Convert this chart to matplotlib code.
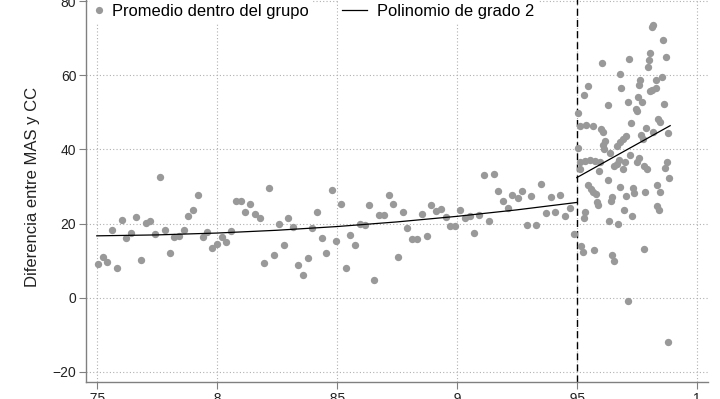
import matplotlib
matplotlib.use("Agg")
import matplotlib.pyplot as plt
from matplotlib.lines import Line2D

plt.rcParams['font.family'] = ['Liberation Sans', 'DejaVu Sans']

# ---- data ----
left_x = [0.7504,0.7525,0.7544,0.7564,0.7583,0.7603,0.7622,0.7643,0.7664,0.7683,
          0.7703,0.7723,0.7743,0.7762,0.7783,0.7803,0.7822,0.7842,0.7863,0.7882,
          0.7902,0.7922,0.7942,0.7961,0.7980,0.8000,0.8021,0.8040,0.8060,0.8079,
          0.8100,0.8119,0.8138,0.8159,0.8179,0.8198,0.8217,0.8238,0.8258,0.8279,
          0.8298,0.8318,0.8339,0.8358,0.8378,0.8398,0.8419,0.8438,0.8457,0.8478,
          0.8498,0.8518,0.8537,0.8557,0.8575,0.8597,0.8617,0.8636,0.8654,0.8676,
          0.8696,0.8716,0.8736,0.8755,0.8775,0.8794,0.8815,0.8835,0.8856,0.8875,
          0.8894,0.8914,0.8935,0.8954,0.8973,0.8994,0.9013,0.9033,0.9054,0.9073,
          0.9093,0.9113,0.9133,0.9153,0.9172,0.9193,0.9213,0.9232,0.9253,0.9272,
          0.9292,0.9311,0.9332,0.9352,0.9371,0.9392,0.9411,0.9431,0.9452,0.9471,
          0.9490]
left_y = [9.2,10.9,9.7,18.3,8.1,21.0,16.0,17.6,21.9,10.2,
          20.2,20.7,17.2,32.5,18.2,12.1,16.3,16.7,18.4,22.1,
          23.8,27.8,16.4,17.7,13.5,14.6,16.3,15.1,18.1,26.1,
          26.1,23.1,25.3,22.6,21.5,9.5,29.5,11.6,19.9,14.1,
          21.5,19.2,8.8,6.2,10.6,18.9,23.2,16.0,12.0,29.0,
          15.4,25.4,8.0,17.0,14.3,20.0,19.5,24.9,4.9,22.4,
          22.4,27.8,25.2,11.1,23.2,18.8,15.8,15.8,22.6,16.6,
          25.0,23.5,23.9,21.8,19.3,19.3,23.7,21.6,22.1,17.4,
          22.3,33.2,20.8,33.5,28.7,26.1,24.2,27.8,26.8,28.9,
          19.5,27.4,19.5,30.7,22.8,27.2,23.2,27.7,22.1,24.3,
          17.1]

right_x = [0.9819,0.9812,0.9860,0.9807,0.9871,0.9607,0.9719,0.9800,0.9796,0.9682,
           0.9857,0.9765,0.9828,0.9758,0.9548,0.9685,0.9832,0.9814,0.9803,0.9528,
           0.9754,0.9771,0.9715,0.9632,0.9862,0.9747,
           0.9507,0.9750,0.9726,0.9514,0.9539,0.9566,0.9600,0.9608,0.9789,0.9837,
           0.9847,0.9879,0.9768,0.9775,0.9819,0.9705,0.9694,0.9680,0.9667,0.9618,
           0.9611,0.9615,0.9503,0.9639,0.9722,0.9761,0.9676,0.9667,0.9701,0.9750,
           0.9514,0.9535,0.9556,0.9576,0.9597,0.9514,0.9594,0.9657,0.9692,0.9778,
           0.9794,0.9875,0.9868,0.9886,0.9629,0.9548,0.9558,0.9569,0.9580,0.9678,
           0.9736,0.9740,0.9705,0.9785,0.9836,0.9847,0.9648,0.9642,0.9583,0.9836,
           0.9587,0.9844,0.9535,0.9530,0.9698,0.9729,0.9636,0.9671,0.9517,0.9525,
           0.9572,0.9646,0.9653,0.9782,0.9713,0.9882]
right_y = [73.6,73.0,69.5,66.0,65.0,63.4,64.3,64.1,62.3,60.4,
           59.5,58.7,58.8,57.3,57.0,56.6,56.5,56.0,55.7,54.7,
           54.1,52.8,52.8,52.0,52.3,51.0,
           49.9,50.4,47.0,46.4,46.6,46.2,45.5,44.6,45.9,48.2,
           47.4,44.3,43.9,42.9,44.7,43.7,42.8,41.9,41.0,42.3,
           41.2,40.2,40.5,39.0,38.5,37.8,37.2,36.0,36.7,36.7,
           36.5,36.9,37.1,36.9,36.5,34.7,34.2,35.4,34.7,35.6,
           34.7,36.5,35.1,32.3,31.8,30.4,29.3,28.6,27.9,29.9,
           29.7,28.2,27.5,28.4,30.5,28.6,27.3,26.1,25.7,24.8,
           25.1,23.6,23.0,21.6,23.7,22.1,20.8,19.9,14.0,12.4,
           12.9,11.5,9.8,13.1,-0.8,-11.8]

left_fit_x = [0.75, 0.775, 0.80, 0.825, 0.85, 0.875, 0.90, 0.925, 0.95]
left_fit_y = [16.7, 16.95, 17.45, 18.2, 19.2, 20.45, 21.95, 23.7, 25.7]
right_fit_x = [0.95, 0.97, 0.9889]
right_fit_y = [32.4, 39.6, 46.4]

cutoff = 0.95
x_ticks = [0.75, 0.80, 0.85, 0.90, 0.95, 1.00]
x_labels = ['.75', '.8', '.85', '.9', '.95', '1']
y_ticks = [-20, 0, 20, 40, 60, 80]

ylabel = 'Diferencia entre MAS y CC'
legend_points = 'Promedio dentro del grupo'
legend_fit = 'Polinomio de grado 2'

# ---- figure ----
W, H = 720, 399
fig = plt.figure(figsize=(W / 100, H / 100), dpi=100)
ax = fig.add_axes([86 / W, 17 / H, 621.6 / W, 391 / H])
ax.set_xlim(0.7455, 1.0045)
ax.set_ylim(-22.7, 82.7)

grid_col = '#b0b0b0'
for s in ['top', 'right']:
    ax.spines[s].set_visible(False)
for s in ['left', 'bottom']:
    ax.spines[s].set_color('#808080')
    ax.spines[s].set_linewidth(1.0)

ax.set_xticks(x_ticks)
ax.set_xticklabels(x_labels)
ax.set_yticks(y_ticks)
ax.tick_params(axis='both', colors='#808080', labelcolor='#222222',
               labelsize=10, length=5, width=0.8, direction='out')
ax.tick_params(axis='x', pad=2.5)
ax.tick_params(axis='y', pad=2)
ax.grid(True, color=grid_col, linestyle=(0, (1, 2)), linewidth=0.8)
ax.set_axisbelow(True)

ax.axvline(cutoff, color='black', linestyle=(0, (5, 3)), linewidth=1.0, zorder=2)

ms = 28
gray = '#999999'
ax.scatter(left_x, left_y, s=ms, color=gray, linewidths=0, zorder=3)
ax.scatter(right_x, right_y, s=ms, color=gray, linewidths=0, zorder=3)
ax.plot(left_fit_x, left_fit_y, color='black', linewidth=0.9, zorder=4)
ax.plot(right_fit_x, right_fit_y, color='black', linewidth=0.9, zorder=4)

ax.set_ylabel(ylabel, fontsize=12, color='#222222', labelpad=9)

h1 = Line2D([], [], marker='o', linestyle='none', markersize=5.2,
            markerfacecolor=gray, markeredgewidth=0)
h2 = Line2D([], [], color='black', linewidth=0.9)
leg1 = ax.legend([h1], [legend_points], loc='upper left',
                 bbox_to_anchor=(90 / W, 1.0), bbox_transform=fig.transFigure,
                 fontsize=11.9, frameon=True, facecolor='white', edgecolor='none',
                 framealpha=1, fancybox=False, handlelength=0.6, handletextpad=0.5,
                 borderpad=0.25, borderaxespad=0)
ax.add_artist(leg1)
leg2 = ax.legend([h2], [legend_fit], loc='upper left',
                 bbox_to_anchor=(338 / W, 1.0), bbox_transform=fig.transFigure,
                 fontsize=11.9, frameon=True, facecolor='white', edgecolor='none',
                 framealpha=1, fancybox=False, handlelength=1.5, handletextpad=0.6,
                 borderpad=0.25, borderaxespad=0)

fig.savefig('out.png', dpi=100)
